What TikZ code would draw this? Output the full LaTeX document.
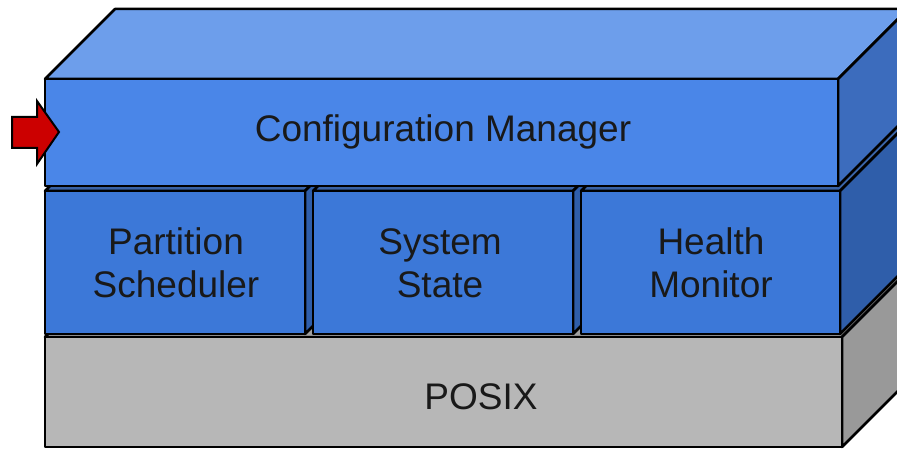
\documentclass[tikz,border=0pt]{standalone}
\usepackage{fontspec}
\setmainfont{Liberation Sans}
\definecolor{cfgTop}{HTML}{6D9EEB}
\definecolor{cfgFront}{HTML}{4A86E8}
\definecolor{cfgSide}{HTML}{3C6CBD}
\definecolor{midTop}{HTML}{3A63A6}
\definecolor{midFront}{HTML}{3C78D8}
\definecolor{midSide}{HTML}{2F5EAA}
\definecolor{osTop}{HTML}{A0A0A0}
\definecolor{osFront}{HTML}{B7B7B7}
\definecolor{osSide}{HTML}{999999}
\definecolor{arrowRed}{HTML}{CC0000}
\tikzset{
  edge/.style={draw=black,line width=2.5pt,line join=round},
  lbl/.style={font=\fontsize{37}{43}\selectfont,align=center,text=black!90,inner sep=0pt}
}
% #1 x1, #2 y1, #3 x2, #4 y2, #5 front, #6 top, #7 side
\newcommand\mycuboid[7]{%
  \filldraw[edge,fill=#6] (#1,#2)--(#1+70,#2-70)--(#3+70,#2-70)--(#3,#2)--cycle;
  \filldraw[edge,fill=#7] (#3,#2)--(#3+70,#2-70)--(#3+70,#4-70)--(#3,#4)--cycle;
  \filldraw[edge,fill=#5] (#1,#2) rectangle (#3,#4);
}
\begin{document}
\begin{tikzpicture}[x=1pt,y=-1pt]
\useasboundingbox (0,0) rectangle (897,449);
\clip (0,0) rectangle (897,449);
% POSIX layer
\mycuboid{45}{337}{842}{447}{osFront}{osTop}{osSide}
% middle layer
\mycuboid{45}{191}{305}{334}{midFront}{midTop}{midSide}
\mycuboid{313}{191}{573}{334}{midFront}{midTop}{midSide}
\mycuboid{581}{191}{840}{334}{midFront}{midTop}{midSide}
% top layer
\mycuboid{45}{79}{838}{186}{cfgFront}{cfgTop}{cfgSide}
% input arrow
\filldraw[draw=black,line width=2pt,line join=miter,fill=arrowRed]
  (12,117)--(37,117)--(37,101)--(59,132)--(37,164)--(37,148)--(12,148)--cycle;
% labels
\node[lbl] (cfg) at (443,132) {Configuration Manager};
\node[lbl] (sched) at (176,263) {Partition\\Scheduler};
\node[lbl] (state) at (440,263) {System\\State};
\node[lbl] (health) at (711,263) {Health\\Monitor};
\node[lbl] (posix) at (481,397) {POSIX};
\end{tikzpicture}
\end{document}
